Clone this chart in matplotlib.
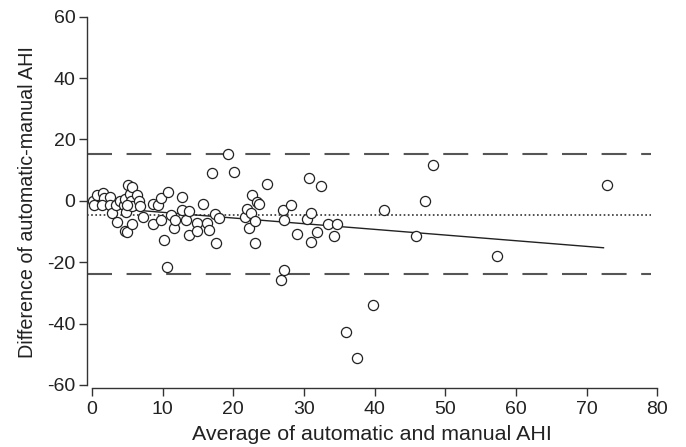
import numpy as np
import matplotlib
matplotlib.use("Agg")
import matplotlib.pyplot as plt

plt.rcParams['font.family'] = ['Liberation Sans', 'DejaVu Sans']
plt.rcParams['axes.unicode_minus'] = False

# mean of automatic and manual AHI (x) and their difference (y)
avg_ahi = [0.1, 0.3, 0.7, 1.5, 1.7, 1.4, 2.6, 2.5, 2.8, 3.4, 3.6, 4.0, 4.5, 4.6,
           4.8, 4.6, 5.0, 5.1, 5.4, 5.6, 5.5, 5.7, 5.7, 6.4, 6.7, 6.8, 7.2, 4.9,
           8.6, 8.6, 9.4, 9.7, 9.7, 10.2, 10.8, 10.6, 11.2, 11.6, 11.7, 12.8,
           12.7, 13.3, 13.7, 13.7, 14.8, 14.9, 15.7, 16.2, 16.5, 17.0, 17.4,
           17.6, 17.9, 19.3, 20.1,
           21.6, 21.9, 22.2, 22.5, 22.7, 23.0, 23.1, 23.4, 23.6, 24.7, 26.8,
           27.0, 27.1, 27.2, 28.2, 29.0, 30.4, 30.7, 31.0, 31.0, 31.9, 32.4,
           33.4, 34.2, 34.7, 35.9, 37.5, 39.8, 41.3, 45.9, 47.2, 48.2, 57.3, 72.9]
diff_ahi = [0.0, -1.2, 1.9, 2.7, 0.9, -1.3, 1.2, -1.3, -4.0, -1.5, -7.0, 0.0, -1.3, 0.6,
            -3.7, -9.7, -10.2, 5.0, 2.2, 4.6, -0.2, -1.8, -7.6, 1.9, 0.0, -1.8, -5.4, -1.5,
            -1.1, -7.6, -1.5, 0.9, -6.1, -12.9, 3.0, -21.6, -4.5, -8.8, -6.1, 1.1,
            -2.9, -6.1, -3.2, -11.2, -7.2, -9.9, -1.0, -7.2, -9.4, 9.0, -4.3,
            -13.8, -5.6, 15.4, 9.4,
            -5.4, -2.6, -8.8, -4.1, 1.9, -6.7, -13.7, -0.4, -1.1, 5.5, -25.9,
            -2.9, -6.1, -22.5, -1.3, -10.7, -5.8, 7.3, -4.0, -13.5, -10.1, 4.9,
            -7.6, -11.3, -7.6, -42.8, -51.2, -33.9, -2.9, -11.5, -0.2, 11.7, -18.0, 5.0]

mean_diff = -4.5
upper_loa = 15.4
lower_loa = -23.7
reg_intercept = -1.9
reg_slope = -0.185

fig = plt.figure(figsize=(6.86, 4.47), dpi=100)
ax = fig.add_axes([0.127, 0.132, 0.831, 0.834])

ax.axhline(upper_loa, xmax=0.99, color='#555555', lw=1.5, dashes=(12, 7))
ax.axhline(lower_loa, xmax=0.99, color='#555555', lw=1.5, dashes=(12, 7))
ax.axhline(mean_diff, xmax=0.99, color='#333333', lw=1.2, ls=(0, (1, 1.5)))

xs = np.array([min(avg_ahi), max(avg_ahi) - 0.5])
ax.plot(xs, reg_intercept + reg_slope * xs, color='#222222', lw=1.0)

ax.plot(avg_ahi, diff_ahi, 'o', ms=7.3, mfc='white', mec='#222222', mew=0.9)

ax.set_xlim(-0.7, 80)
ax.set_ylim(-61, 60.5)
ax.spines['top'].set_visible(False)
ax.spines['right'].set_visible(False)
ax.spines['left'].set_bounds(-60, 60)
ax.spines['bottom'].set_bounds(0, 80)
for s in ['left', 'bottom']:
    ax.spines[s].set_color('#333333')
    ax.spines[s].set_linewidth(1.0)

ax.set_xticks(np.arange(0, 81, 10))
ax.set_yticks(np.arange(-60, 61, 20))
ax.tick_params(direction='out', length=6, width=1.0, color='#333333',
               labelsize=14, labelcolor='#222222')
ax.tick_params(axis='y', pad=2.5)
ax.set_xlabel('Average of automatic and manual AHI', fontsize=15.4, color='#222222',
              labelpad=5)
ax.set_ylabel('Difference of automatic-manual AHI', fontsize=14.2, color='#222222',
              labelpad=7)

fig.savefig('out.png', dpi=100)
